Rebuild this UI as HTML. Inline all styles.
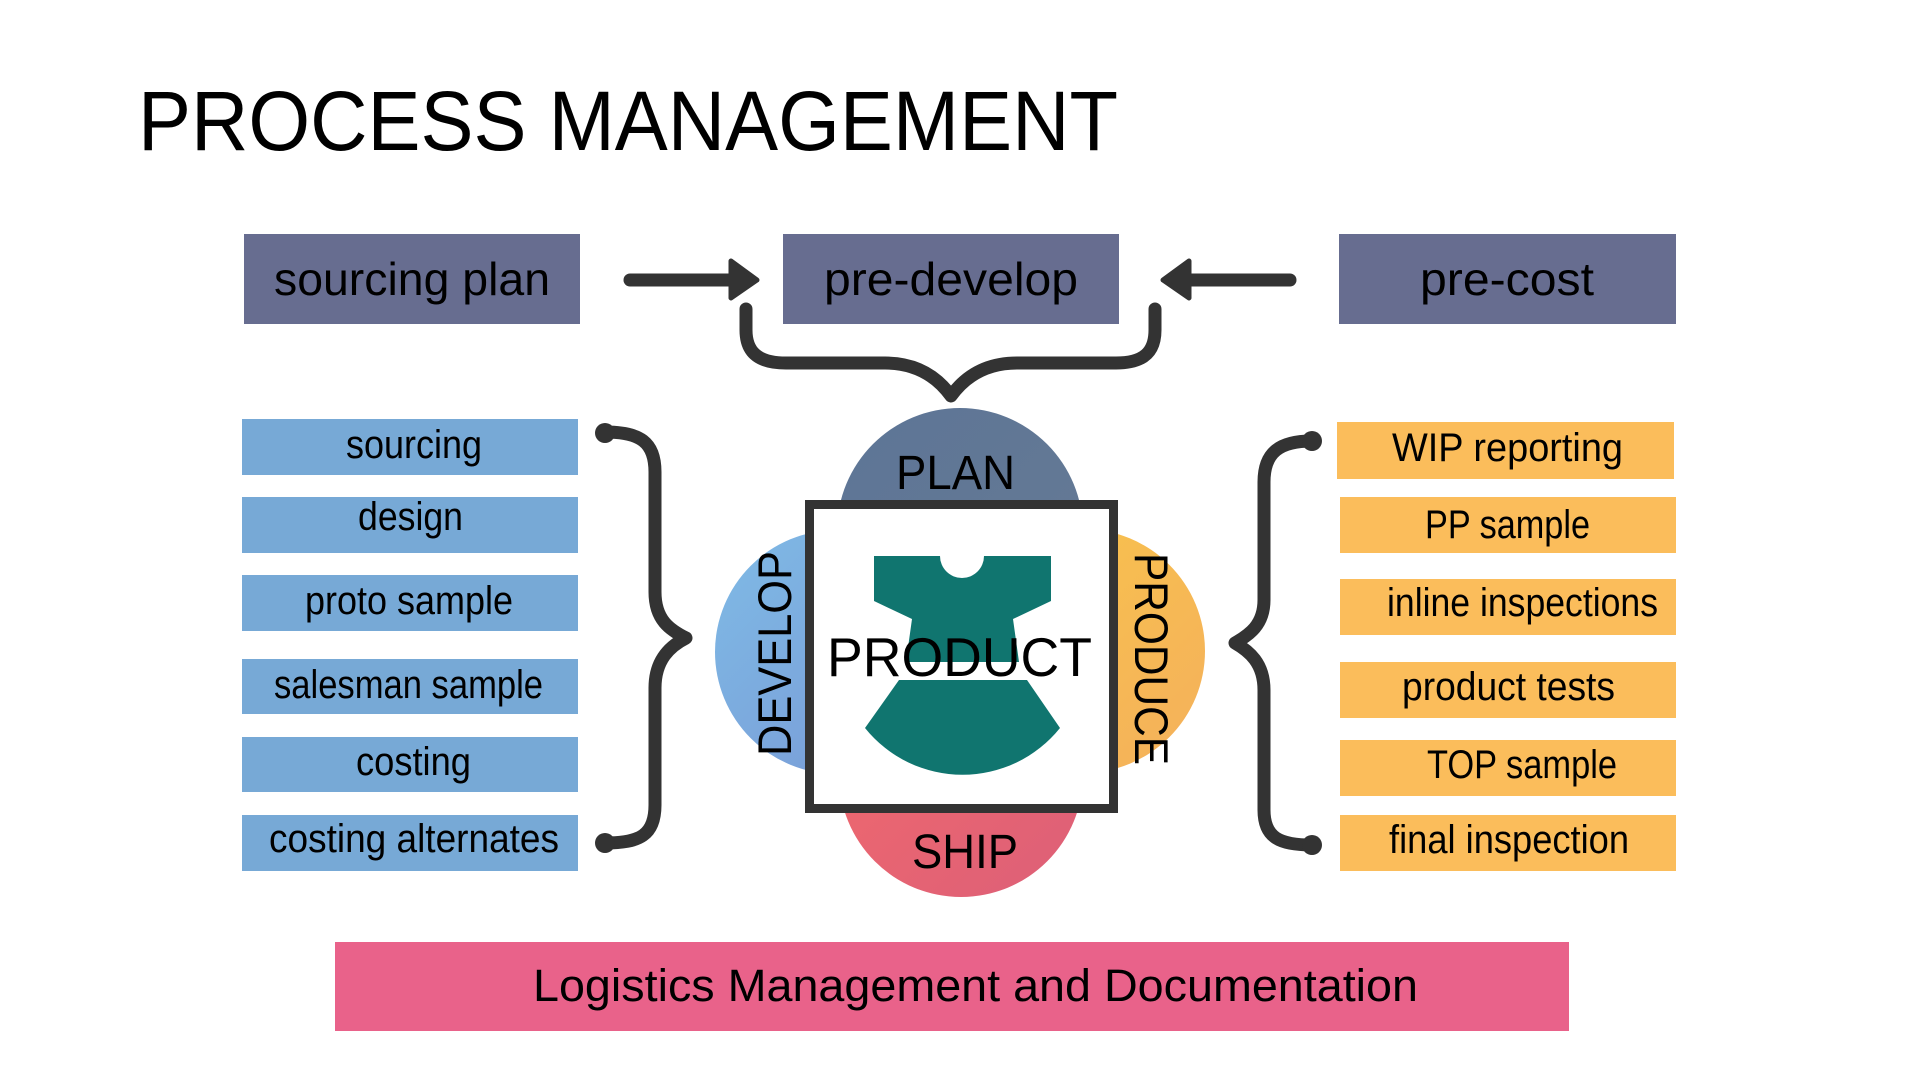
<!DOCTYPE html>
<html><head><meta charset="utf-8"><style>
html,body{margin:0;padding:0;background:#fff;}
svg{display:block;}
text{font-family:"Liberation Sans",sans-serif;fill:#000;}
</style></head><body>
<svg width="1920" height="1080" viewBox="0 0 1920 1080" xmlns="http://www.w3.org/2000/svg">
<defs>
<linearGradient id="gPlan" x1="0" y1="0" x2="1" y2="1"><stop offset="0" stop-color="#5d7596"/><stop offset="1" stop-color="#667a94"/></linearGradient>
<linearGradient id="gDev" x1="0" y1="0" x2="1" y2="1"><stop offset="0" stop-color="#7fbbe6"/><stop offset="1" stop-color="#7896d4"/></linearGradient>
<linearGradient id="gProd" x1="0" y1="0" x2="1" y2="1"><stop offset="0" stop-color="#f9c54a"/><stop offset="1" stop-color="#f4b05c"/></linearGradient>
<linearGradient id="gShip" x1="0" y1="0" x2="1" y2="1"><stop offset="0" stop-color="#f36a6c"/><stop offset="1" stop-color="#dc5f78"/></linearGradient>
</defs>

<text x="138" y="150" font-size="84" textLength="980" lengthAdjust="spacingAndGlyphs">PROCESS MANAGEMENT</text>

<!-- top boxes -->
<rect x="244" y="234" width="336" height="90" fill="#676d90"/>
<rect x="783" y="234" width="336" height="90" fill="#676d90"/>
<rect x="1339" y="234" width="337" height="90" fill="#676d90"/>
<text x="274" y="295" font-size="46" textLength="276" lengthAdjust="spacingAndGlyphs">sourcing plan</text>
<text x="824" y="295" font-size="46" textLength="254" lengthAdjust="spacingAndGlyphs">pre-develop</text>
<text x="1420" y="295" font-size="46" textLength="174" lengthAdjust="spacingAndGlyphs">pre-cost</text>

<!-- arrows -->
<g fill="#333" stroke="#333" stroke-linejoin="round">
<line x1="630" y1="280" x2="735" y2="280" stroke-width="13" stroke-linecap="round"/>
<polygon points="731,261 757,280 731,298" stroke-width="5"/>
<line x1="1290" y1="280" x2="1185" y2="280" stroke-width="13" stroke-linecap="round"/>
<polygon points="1189,261 1163,280 1189,298" stroke-width="5"/>
</g>

<!-- braces -->
<g fill="none" stroke="#333" stroke-width="13" stroke-linecap="round" stroke-linejoin="round">
<path d="M746,309 L746,330 C746,352 758,363 786,363 L885,363 C918,363 938,378 951,396 C964,378 984,363 1017,363 L1116,363 C1144,363 1155,352 1155,330 L1155,309"/>
<path d="M605,432 C640,432 655,442 655,472 L655,592 C655,620 670,630 686,638 C670,646 655,660 655,688 L655,805 C655,835 640,843 605,843"/>
<path d="M1312,441 C1280,441 1264,452 1264,482 L1264,600 C1264,625 1249,635 1235,643 C1249,651 1264,663 1264,690 L1264,810 C1264,838 1280,845 1312,845"/>
</g>
<g fill="#333">
<circle cx="605" cy="433" r="10"/><circle cx="605" cy="843" r="10"/>
<circle cx="1312" cy="441" r="10"/><circle cx="1312" cy="845" r="10"/>
</g>

<!-- left list -->
<g fill="#77a9d6">
<rect x="242" y="419" width="336" height="56"/>
<rect x="242" y="497" width="336" height="56"/>
<rect x="242" y="575" width="336" height="56"/>
<rect x="242" y="659" width="336" height="55"/>
<rect x="242" y="737" width="336" height="55"/>
<rect x="242" y="815" width="336" height="56"/>
</g>
<g font-size="40">
<text x="346" y="458" textLength="136" lengthAdjust="spacingAndGlyphs">sourcing</text>
<text x="358" y="530" textLength="105" lengthAdjust="spacingAndGlyphs">design</text>
<text x="305" y="614" textLength="208" lengthAdjust="spacingAndGlyphs">proto sample</text>
<text x="274" y="698" textLength="269" lengthAdjust="spacingAndGlyphs">salesman sample</text>
<text x="356" y="775" textLength="115" lengthAdjust="spacingAndGlyphs">costing</text>
<text x="269" y="852" textLength="290" lengthAdjust="spacingAndGlyphs">costing alternates</text>
</g>

<!-- right list -->
<g fill="#fbbd5b">
<rect x="1337" y="422" width="337" height="57"/>
<rect x="1340" y="497" width="336" height="56"/>
<rect x="1340" y="579" width="336" height="56"/>
<rect x="1340" y="662" width="336" height="56"/>
<rect x="1340" y="740" width="336" height="56"/>
<rect x="1340" y="815" width="336" height="56"/>
</g>
<g font-size="40">
<text x="1392" y="461" textLength="231" lengthAdjust="spacingAndGlyphs">WIP reporting</text>
<text x="1425" y="538" textLength="165" lengthAdjust="spacingAndGlyphs">PP sample</text>
<text x="1387" y="616" textLength="271" lengthAdjust="spacingAndGlyphs">inline inspections</text>
<text x="1402" y="700" textLength="213" lengthAdjust="spacingAndGlyphs">product tests</text>
<text x="1427" y="778" textLength="190" lengthAdjust="spacingAndGlyphs">TOP sample</text>
<text x="1389" y="853" textLength="240" lengthAdjust="spacingAndGlyphs">final inspection</text>
</g>

<!-- center circles -->
<circle cx="960" cy="531" r="123" fill="url(#gPlan)"/>
<circle cx="837" cy="652" r="122" fill="url(#gDev)"/>
<circle cx="1083" cy="651" r="122" fill="url(#gProd)"/>
<circle cx="961" cy="775" r="122" fill="url(#gShip)"/>
<rect x="809.5" y="504.5" width="304" height="304" fill="#fff" stroke="#333" stroke-width="9"/>

<!-- dress -->
<g fill="#10756f">
<path d="M874,556 L940,556 A22,22 0 0 0 984,556 L1051,556 L1051,601 L1013,619 L1019,662 L906,662 L912,619 L874,601 Z"/>
<path d="M899,680 L1027,680 L1060,728 A125,125 0 0 1 865,728 Z"/>
</g>

<text x="896" y="489" font-size="48" textLength="119" lengthAdjust="spacingAndGlyphs">PLAN</text>
<text x="912" y="868" font-size="48" textLength="106" lengthAdjust="spacingAndGlyphs">SHIP</text>
<text x="827" y="676" font-size="55" textLength="265" lengthAdjust="spacingAndGlyphs">PRODUCT</text>
<text transform="translate(791,756) rotate(-90)" font-size="47" textLength="205" lengthAdjust="spacingAndGlyphs">DEVELOP</text>
<text transform="translate(1135,553) rotate(90)" font-size="47" textLength="212" lengthAdjust="spacingAndGlyphs">PRODUCE</text>

<!-- logistics bar -->
<rect x="335" y="942" width="1234" height="89" fill="#e9628a"/>
<text x="533" y="1001" font-size="45" textLength="885" lengthAdjust="spacingAndGlyphs">Logistics Management and Documentation</text>
</svg>
</body></html>
